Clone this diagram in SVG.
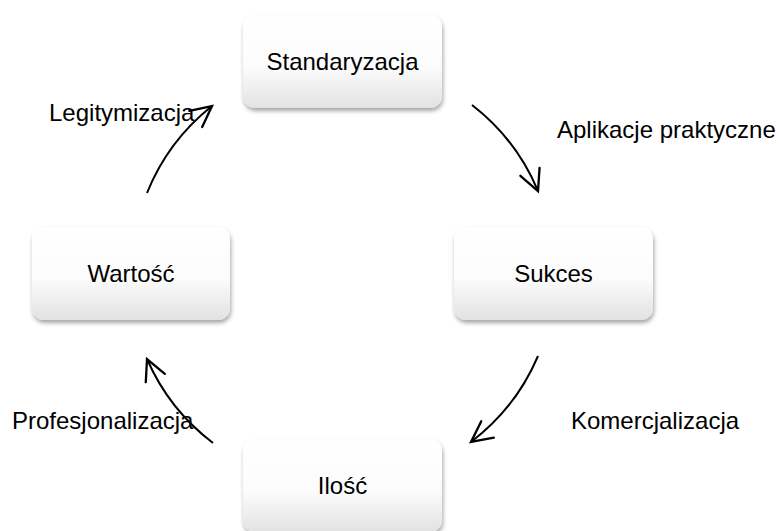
<svg xmlns="http://www.w3.org/2000/svg" width="780" height="531" viewBox="0 0 780 531">
  <defs>
    <linearGradient id="boxGrad" x1="0" y1="0" x2="0" y2="1">
      <stop offset="0" stop-color="#ffffff"/>
      <stop offset="0.55" stop-color="#fcfcfc"/>
      <stop offset="1" stop-color="#e2e2e2"/>
    </linearGradient>
    <filter id="shadow" x="-10%" y="-10%" width="125%" height="130%">
      <feDropShadow dx="1" dy="3" stdDeviation="2.2" flood-color="#000" flood-opacity="0.35"/>
    </filter>
    <marker id="arrow" markerUnits="userSpaceOnUse" markerWidth="30" markerHeight="30" viewBox="-22 -12 26 24" refX="0" refY="0" orient="auto">
      <path d="M-18,-9 L0,0 L-18,9" fill="none" stroke="#000" stroke-width="2" stroke-linejoin="miter" stroke-linecap="round"/>
    </marker>
  </defs>
  <style>
    .box { fill: url(#boxGrad); filter: url(#shadow); }
    .lbl { font-family: "Liberation Sans", Arial, sans-serif; font-size: 24px; fill: #000; }
    .mid { text-anchor: middle; }
    .conn { fill: none; stroke: #000; stroke-width: 2; marker-end: url(#arrow); }
  </style>
  <rect width="780" height="531" fill="#fff"/>

  <g id="connectors">
    <path class="conn" d="M472,105 A212,212 0 0 1 538,191"/>
    <path class="conn" d="M538,356 A212,212 0 0 1 471,442"/>
    <path class="conn" d="M213,443 A212,212 0 0 1 147,359"/>
    <path class="conn" d="M147,193 A212,212 0 0 1 212,106"/>
  </g>

  <g id="node-standaryzacja">
    <rect class="box" x="243" y="15" width="199" height="93" rx="12"/>
    <text class="lbl mid" x="342.5" y="70">Standaryzacja</text>
  </g>
  <g id="node-sukces">
    <rect class="box" x="454" y="227" width="199" height="93" rx="12"/>
    <text class="lbl mid" x="553.5" y="282">Sukces</text>
  </g>
  <g id="node-ilosc">
    <rect class="box" x="243" y="439" width="199" height="93" rx="12"/>
    <text class="lbl mid" x="342.5" y="494">Ilość</text>
  </g>
  <g id="node-wartosc">
    <rect class="box" x="32" y="227" width="198" height="93" rx="12"/>
    <text class="lbl mid" x="131" y="282">Wartość</text>
  </g>

  <g id="edge-labels">
    <text class="lbl" x="557" y="138">Aplikacje praktyczne</text>
    <text class="lbl" x="571" y="429">Komercjalizacja</text>
    <text class="lbl" x="12" y="429">Profesjonalizacja</text>
    <text class="lbl" x="49" y="121">Legitymizacja</text>
  </g>
</svg>
